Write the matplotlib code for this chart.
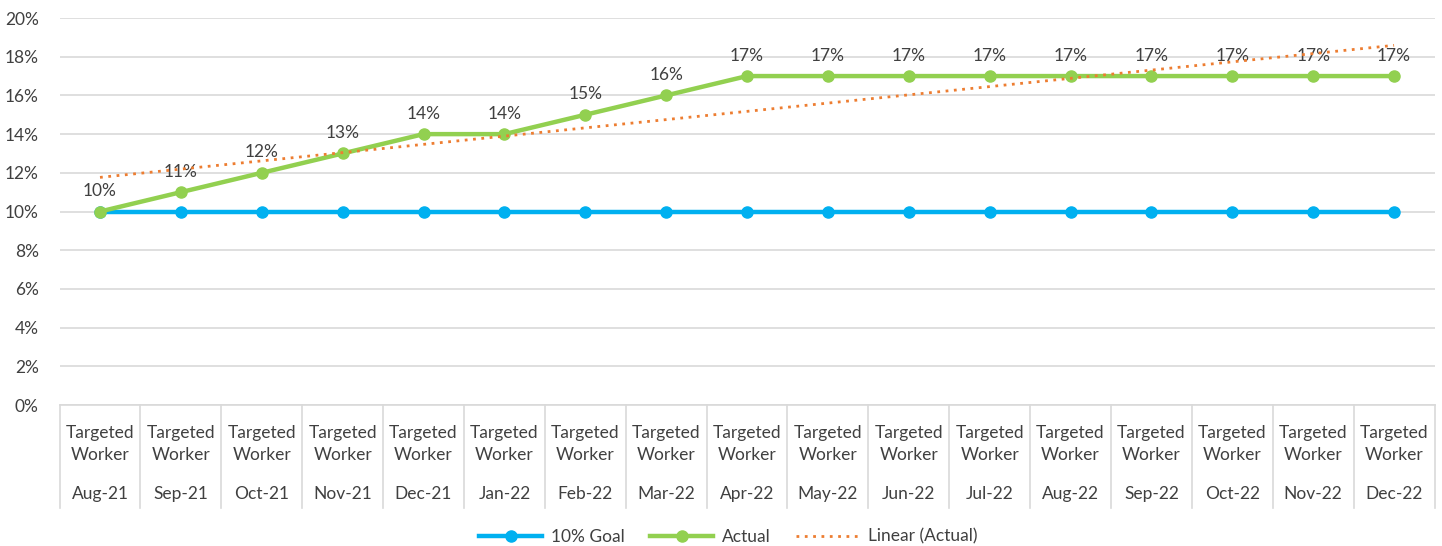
import numpy as np
import matplotlib.pyplot as plt
from matplotlib.lines import Line2D

plt.rcParams['font.family'] = ['Lato', 'DejaVu Sans']

months = ['Aug-21', 'Sep-21', 'Oct-21', 'Nov-21', 'Dec-21', 'Jan-22', 'Feb-22', 'Mar-22',
          'Apr-22', 'May-22', 'Jun-22', 'Jul-22', 'Aug-22', 'Sep-22', 'Oct-22', 'Nov-22', 'Dec-22']
group_label = 'Targeted\nWorker'
goal = [0.10] * 17
actual = [0.10, 0.11, 0.12, 0.13, 0.14, 0.14, 0.15, 0.16, 0.17, 0.17, 0.17, 0.17, 0.17, 0.17, 0.17, 0.17, 0.17]

BLUE = '#00B0F0'
GREEN = '#92D050'
ORANGE = '#ED7D31'
GRID = '#D9D9D9'
TXT = '#404040'
FS = 12.5

fig = plt.figure(figsize=(14.42, 5.46), dpi=100)
ax = fig.add_axes([0.0413, 0.2582, 0.9535, 0.7088])

x = np.arange(len(months))
ax.plot(x, goal, color=BLUE, lw=3.2, marker='o', ms=8, zorder=3)
ax.plot(x, actual, color=GREEN, lw=3.2, marker='o', ms=8, zorder=4)

# excel-style linear trendline on actual
k, b = np.polyfit(x + 1, actual, 1)
ax.plot([0, len(x) - 1], [k * 1 + b, k * len(x) + b], color=ORANGE, lw=2, ls=(0, (1, 2)), zorder=5)

for xi, v in zip(x, actual):
    ax.annotate(f'{v*100:.0f}%', (xi, v), xytext=(0, 9), textcoords='offset points',
                ha='center', va='bottom', fontsize=FS, color=TXT)

ax.set_xlim(-0.5, len(x) - 0.5)
ax.set_ylim(0, 0.2)
ax.set_yticks(np.arange(0, 0.21, 0.02))
ax.set_yticklabels([f'{t*100:.0f}%' for t in np.arange(0, 0.21, 0.02)], fontsize=FS, color=TXT)
ax.tick_params(axis='y', length=0, pad=15)
ax.yaxis.grid(True, color=GRID, lw=1.2)
ax.set_axisbelow(True)
ax.set_xticks([])
for s in ['top', 'right', 'left']:
    ax.spines[s].set_visible(False)
ax.spines['bottom'].set_color(GRID)
ax.spines['bottom'].set_linewidth(1.2)

# two-level category axis
trans = ax.get_xaxis_transform()
for i in range(len(x) + 1):
    ax.add_line(Line2D([i - 0.5, i - 0.5], [0, -0.265], transform=trans, color=GRID, lw=1.2, clip_on=False))
for xi, m in zip(x, months):
    ax.text(xi, -0.1, group_label, transform=trans, ha='center', va='center',
            fontsize=FS, color=TXT, linespacing=1.45)
    ax.text(xi, -0.229, m, transform=trans, ha='center', va='center', fontsize=FS, color=TXT)

handles = [Line2D([], [], color=BLUE, lw=3.2, marker='o', ms=8),
           Line2D([], [], color=GREEN, lw=3.2, marker='o', ms=8),
           Line2D([], [], color=ORANGE, lw=2, ls=(0, (1, 2)))]
fig.legend(handles, ['10% Goal', 'Actual', 'Linear (Actual)'], loc='center', bbox_to_anchor=(0.505, 0.017),
           ncol=3, frameon=False, fontsize=FS, handlelength=3.6, handletextpad=0.5,
           columnspacing=1.5, labelcolor=TXT)

fig.savefig('out.png', dpi=100)
